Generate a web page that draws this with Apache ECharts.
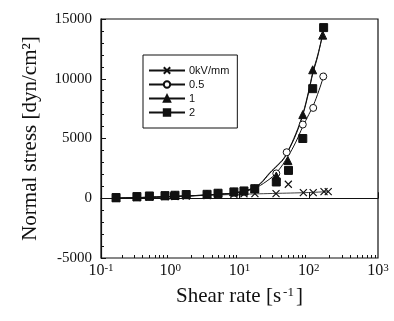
<!DOCTYPE html>
<html>
<head>
<meta charset="utf-8">
<script src="https://cdn.jsdelivr.net/npm/echarts@6/dist/echarts.min.js"></script>
<style>
  html, body { margin: 0; padding: 0; background: #fff; }
  #chart { width: 394px; height: 321px; }
</style>
</head>
<body>
<div id="chart"></div>
<script>
// legend names
const seriesNames = ['0kV/mm', '0.5', '1', '2']

// measured points (shear rate, normal stress)
const x0 = [0.165, 0.33, 0.5, 0.84, 1.17, 1.7, 3.4, 4.9, 8.3, 11.6, 16.7, 33.7, 50.7, 83.6, 116, 166, 191]
const y0 = [0, 60, 100, 130, 150, 180, 220, 280, 330, 380, 390, 390, 1170, 475, 475, 560, 560]
const x05 = [0.165, 0.33, 0.5, 0.84, 1.17, 1.7, 3.4, 4.9, 8.3, 11.6, 16.6, 34, 48, 82, 116, 162]
const y05 = [30, 100, 150, 200, 230, 280, 330, 420, 520, 600, 750, 2080, 3850, 6170, 7560, 10190]
const x1 = [0.165, 0.33, 0.5, 0.84, 1.17, 1.7, 3.4, 4.9, 8.3, 11.6, 16.6, 34, 50, 82, 114, 159]
const y1 = [40, 120, 170, 210, 240, 300, 330, 420, 530, 610, 800, 1860, 3150, 7000, 10750, 13650]
const x2 = [0.165, 0.33, 0.5, 0.84, 1.17, 1.7, 3.4, 4.9, 8.3, 11.6, 16.6, 34, 51, 82, 114, 164]
const y2 = [60, 140, 190, 220, 250, 310, 330, 420, 530, 610, 800, 1360, 2330, 5000, 9170, 14280]

// fitted curves
const fit0x = [0.15, 1, 10, 30, 100, 191]
const fit0y = [0, 150, 330, 400, 480, 560]
const fit05x = [0.15, 1, 5, 10, 16, 25, 35, 50, 65, 82, 100, 116, 140, 170]
const fit05y = [0, 130, 320, 500, 800, 1450, 2200, 3500, 4700, 6000, 7000, 7750, 9000, 10500]
const fit1x = [0.15, 1, 5, 10, 16, 20, 27.5, 35, 43, 50, 65, 82, 100, 114, 135, 159]
const fit1y = [0, 140, 340, 520, 880, 1250, 2150, 2750, 3300, 3950, 5400, 7050, 9000, 10500, 12000, 13700]
const fit2x = [0.15, 1, 5, 10, 16, 20, 27.5, 35, 43, 50, 65, 82, 100, 114, 135, 166]
const fit2y = [0, 140, 340, 520, 860, 1200, 2100, 2700, 3250, 3900, 5300, 6950, 8900, 10400, 11900, 14280]

// axis ticks
const yMin = -5000, yMax = 15000, yStep = 5000
const xDecades = [0.1, 1, 10, 100, 1000]
const xSup = ['-1', '0', '1', '2', '3']

const zip = (xs, ys) => xs.map((x, i) => [x, ys[i]])

const minorX = []
for (let d = 0; d < xDecades.length - 1; d++) {
  for (let m = 2; m <= 9; m++) minorX.push(+(xDecades[d] * m).toPrecision(3))
}

const crossPath = 'path://M0,0L10,10M10,0L0,10'
const symbols = [crossPath, 'circle', 'triangle', 'rect']
const fills = ['transparent', '#fff', '#111', '#111']
const sizes = [7, 7, 8, 8]
const points = [zip(x0, y0), zip(x05, y05), zip(x1, y1), zip(x2, y2)]
const fits = [zip(fit0x, fit0y), zip(fit05x, fit05y), zip(fit1x, fit1y), zip(fit2x, fit2y)]

const serif = 'Liberation Serif'
const chart = echarts.init(document.getElementById('chart'))

const series = []
seriesNames.forEach((name, i) => {
  series.push({
    name: name,
    type: 'line',
    smooth: 0.4,
    showSymbol: false,
    symbol: symbols[i],
    symbolSize: sizes[i],
    itemStyle: { color: fills[i], borderColor: '#111', borderWidth: 1 },
    lineStyle: { color: '#111', width: i === 0 ? 0.8 : 1 },
    data: fits[i],
    z: 2,
    animation: false
  })
})
seriesNames.forEach((name, i) => {
  series.push({
    name: name,
    type: 'scatter',
    symbol: symbols[i],
    symbolSize: sizes[i],
    itemStyle: { color: fills[i], borderColor: '#111', borderWidth: i === 0 ? 1.2 : 1, opacity: 1 },
    data: points[i],
    z: 3,
    animation: false
  })
})

const option = {
  animation: false,
  grid: {
    left: 101, right: 16, top: 19, bottom: 63,
    show: true, borderColor: '#111', borderWidth: 1.2
  },
  legend: {
    data: seriesNames,
    orient: 'vertical',
    left: 143, top: 55,
    padding: [10, 8, 10, 5],
    itemWidth: 36, itemHeight: 8, itemGap: 3,
    borderColor: '#111', borderWidth: 1,
    textStyle: { fontFamily: 'Liberation Sans', fontSize: 11, color: '#111', padding: [0, 0, 0, -1] }
  },
  xAxis: [
    {
      type: 'log', logBase: 10, min: 0.1, max: 1000,
      name: '{a|Shear rate [s}{s|-1}{a|]}',
      nameLocation: 'middle', nameGap: 28,
      nameTextStyle: {
        rich: {
          a: { fontFamily: serif, fontSize: 21, color: '#111' },
          s: { fontFamily: serif, fontSize: 13, color: '#111', verticalAlign: 'top', padding: [0, 2, 0, 2] }
        }
      },
      axisLine: { lineStyle: { color: '#111', width: 1.2 } },
      axisTick: { inside: true, length: 6, lineStyle: { color: '#111' } },
      splitLine: { show: false },
      axisLabel: {
        margin: 5,
        formatter: v => {
          const i = xDecades.findIndex(d => Math.abs(d - v) / d < 1e-6)
          return i < 0 ? '' : '{b|10}{s|' + xSup[i] + '}'
        },
        rich: {
          b: { fontFamily: serif, fontSize: 16, color: '#111' },
          s: { fontFamily: serif, fontSize: 11, color: '#111', verticalAlign: 'top' }
        }
      }
    },
    {
      type: 'log', logBase: 10, min: 0.1, max: 1000,
      position: 'bottom',
      axisLine: { show: false },
      axisLabel: { show: false },
      splitLine: { show: false },
      axisTick: { inside: true, length: 3, customValues: minorX, lineStyle: { color: '#111' } }
    }
  ],
  yAxis: {
    type: 'value', min: yMin, max: yMax, interval: yStep,
    name: 'Normal stress [dyn/cm²]',
    nameLocation: 'middle', nameGap: 60,
    nameTextStyle: { fontFamily: serif, fontSize: 21, color: '#111' },
    axisLine: { show: true, lineStyle: { color: '#111', width: 1.2 } },
    axisTick: { show: true, inside: true, length: 5, lineStyle: { color: '#111' } },
    minorTick: { show: true, splitNumber: 5, length: 3, lineStyle: { color: '#111' } },
    splitLine: { show: false },
    axisLabel: {
      margin: 9,
      fontFamily: serif, fontSize: 15, color: '#111',
      formatter: v => String(v)
    }
  },
  series: series
}

chart.setOption(option)
</script>
</body>
</html>
